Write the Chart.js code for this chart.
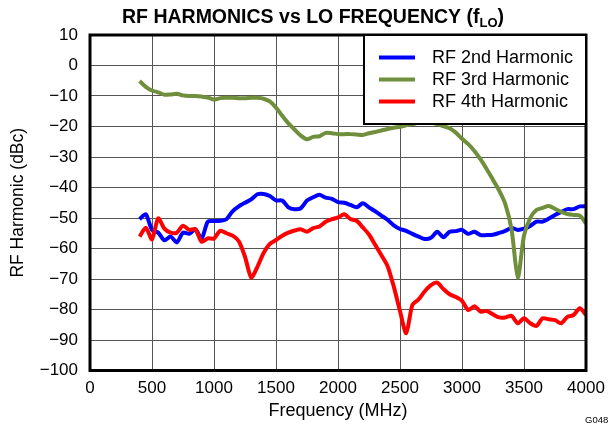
<!DOCTYPE html>
<html>
<head>
<meta charset="utf-8">
<script src="https://cdn.jsdelivr.net/npm/chart.js@4"></script>
<style>
  html, body { margin: 0; padding: 0; background: #fff; }
  #wrap { width: 609px; height: 427px; }
</style>
</head>
<body>
<div id="wrap"><canvas id="canvas" width="609" height="427"></canvas></div>
<script>
var freq = [400, 450, 500, 550, 600, 650, 700, 750, 800, 850, 900, 950, 1000, 1050, 1100, 1150, 1200, 1250, 1300, 1350,
  1400, 1450, 1500, 1550, 1600, 1650, 1700, 1750, 1800, 1850, 1900, 1950, 2000, 2050, 2100, 2150, 2200, 2250, 2300, 2350,
  2400, 2450, 2500, 2550, 2600, 2650, 2700, 2750, 2800, 2850, 2900, 2950, 3000, 3050, 3100, 3150, 3200, 3250, 3300, 3350,
  3400, 3450, 3500, 3550, 3600, 3650, 3700, 3750, 3800, 3850, 3900, 3950, 4000];

var rf2nd = [-50.4, -48.8, -53.9, -54.8, -57.3, -56.1, -58, -54.8, -55.2, -53.7, -56.7, -51.2, -51, -50.9, -50.4, -47.8, -46.2, -45, -43.9, -42.2,
  -42.1, -42.8, -44.2, -44.3, -46.5, -47.1, -46.8, -44.3, -43.2, -42.4, -43.3, -43.7, -44.8, -45, -45.7, -46.5, -45.2, -46.5, -47.8, -49.2,
  -50.6, -52.4, -53.6, -54.2, -55.2, -56.1, -56.9, -56.5, -54.5, -56.3, -54.5, -54.3, -53.9, -55.2, -54.5, -55.6, -55.6, -55.5, -54.9, -54.2,
  -53.3, -53.9, -53.5, -52.6, -51.2, -51.2, -50.2, -49, -48, -47.1, -47.1, -46.2, -46.1];

var rf3rd = [-5.1, -7, -8.2, -8.8, -9.6, -9.5, -9.3, -9.8, -10, -10, -10.2, -10.5, -11.2, -10.7, -10.6, -10.6, -10.7, -10.7, -10.6, -10.6,
  -10.9, -11.8, -13.8, -16.5, -19, -21, -23, -24.2, -23.4, -23.2, -22.1, -22.2, -22.5, -22.5, -22.5, -22.6, -22.8, -22.2, -21.8, -21.3,
  -20.8, -20.4, -20.1, -19.6, -19.2, -18.8, -18.6, -18.7, -19.2, -19.9, -20.6, -22, -24, -25.8, -28, -30.8, -34, -37.5, -41, -45.5,
  -53.8, -69.5, -55.8, -50, -47.4, -46.7, -46.1, -47, -48, -48.7, -49, -49.2, -51.8];

var rf4th = [-56.1, -53.2, -57, -50.1, -53.5, -54.8, -54.8, -52.5, -53.9, -53.7, -57.8, -56.7, -56.7, -54.2, -55, -55.8, -57.6, -62.7, -69.5, -66,
  -61.5, -58.5, -57.2, -55.8, -54.8, -54.1, -53.7, -54.5, -53.3, -52.8, -51.2, -50.4, -49.8, -48.8, -50.3, -50.9, -53.1, -55.4, -58.8, -62.2,
  -65.8, -72.5, -80.5, -87.8, -78.5, -76.7, -74, -72, -71.2, -73.3, -75, -75.9, -77.2, -80.2, -78.9, -80.7, -80.5, -81.6, -82.6, -82.6,
  -82.1, -84.5, -82.9, -84.5, -85.4, -82.9, -83.2, -83.5, -84.5, -82.4, -81.8, -79.6, -81.8];

var seriesNames = ['RF 2nd Harmonic', 'RF 3rd Harmonic', 'RF 4th Harmonic'];
var seriesColors = ['#0000ff', '#6f8f3c', '#ff0000'];

var FONT = '"Liberation Sans", Arial, sans-serif';

function points(ys) {
  return ys.map(function (y, i) { return { x: freq[i], y: y }; });
}

// frame, legend box, title with subscript and figure code
var decorations = {
  id: 'decorations',
  afterDatasetsDraw: function (chart) {
    var ctx = chart.ctx;
    var a = chart.chartArea;
    ctx.save();

    ctx.strokeStyle = '#000';
    ctx.lineWidth = 3;
    ctx.strokeRect(a.left, a.top, a.right - a.left, a.bottom - a.top);

    var lx = 364, ly = a.top, lw = a.right - 364, lh = 89;
    ctx.fillStyle = '#fff';
    ctx.fillRect(lx, ly, lw, lh);
    ctx.lineWidth = 2;
    ctx.strokeRect(lx, ly, lw, lh);

    ctx.font = '18px ' + FONT;
    ctx.textBaseline = 'middle';
    ctx.textAlign = 'left';
    seriesNames.forEach(function (name, i) {
      var y = ly + 22.5 + i * 22;
      ctx.strokeStyle = seriesColors[i];
      ctx.lineWidth = 4;
      ctx.beginPath();
      ctx.moveTo(379, y);
      ctx.lineTo(415, y);
      ctx.stroke();
      ctx.fillStyle = '#000';
      ctx.fillText(name, 432, y + 1);
    });
    ctx.restore();
  },
  afterDraw: function (chart) {
    var ctx = chart.ctx;
    ctx.save();
    ctx.fillStyle = '#000';
    ctx.textBaseline = 'alphabetic';
    ctx.textAlign = 'left';
    var main = 'RF HARMONICS vs LO FREQUENCY (f';
    var big = 'bold 19.5px ' + FONT;
    var small = 'bold 13px ' + FONT;
    ctx.font = big;
    var w1 = ctx.measureText(main).width;
    var w3 = ctx.measureText(')').width;
    ctx.font = small;
    var w2 = ctx.measureText('LO').width;
    var x = 313 - (w1 + w2 + w3) / 2;
    ctx.font = big;
    ctx.fillText(main, x, 22.5);
    ctx.font = small;
    ctx.fillText('LO', x + w1, 27);
    ctx.font = big;
    ctx.fillText(')', x + w1 + w2, 22.5);

    ctx.font = '9.5px ' + FONT;
    ctx.fillText('G048', 585, 422.5);
    ctx.restore();
  }
};

window.onload = function () {
  var ctx = document.getElementById('canvas').getContext('2d');
  var datasets = [rf2nd, rf3rd, rf4th].map(function (ys, i) {
    return {
      label: seriesNames[i],
      data: points(ys),
      borderColor: seriesColors[i],
      backgroundColor: seriesColors[i],
      borderWidth: 4,
      pointRadius: 0,
      tension: 0.25,
      order: 3 - i
    };
  });

  new Chart(ctx, {
    type: 'line',
    data: { datasets: datasets },
    options: {
      responsive: false,
      animation: false,
      layout: { padding: { top: 35, right: 23, bottom: 0, left: 0 } },
      plugins: {
        legend: { display: false },
        tooltip: { enabled: false },
        title: { display: false }
      },
      scales: {
        x: {
          type: 'linear',
          min: 0,
          max: 4000,
          afterFit: function (s) {
            s.height = 56.5;
            s.paddingLeft = 0;
            s.paddingRight = 0;
          },
          border: { display: false },
          grid: { color: '#555', lineWidth: 1, drawTicks: false },
          ticks: {
            stepSize: 500,
            padding: 8,
            color: '#000',
            maxRotation: 0,
            font: { family: FONT, size: 17 },
            callback: function (v) { return String(v); }
          },
          title: {
            display: true,
            text: 'Frequency (MHz)',
            color: '#000',
            font: { family: FONT, size: 18 },
            padding: { top: 0, bottom: 5 }
          }
        },
        y: {
          min: -100,
          max: 10,
          afterFit: function (s) {
            s.width = 90;
            s.paddingTop = 0;
            s.paddingBottom = 0;
          },
          border: { display: false },
          grid: { color: '#555', lineWidth: 1, drawTicks: false },
          ticks: {
            stepSize: 10,
            padding: 12,
            color: '#000',
            font: { family: FONT, size: 17 },
            callback: function (v) { return String(v).replace('-', '\u2212'); }
          },
          title: {
            display: true,
            text: 'RF Harmonic (dBc)',
            color: '#000',
            font: { family: FONT, size: 17.5 },
            padding: { top: 8, bottom: 0 }
          }
        }
      }
    },
    plugins: [decorations]
  });
};
</script>
</body>
</html>
